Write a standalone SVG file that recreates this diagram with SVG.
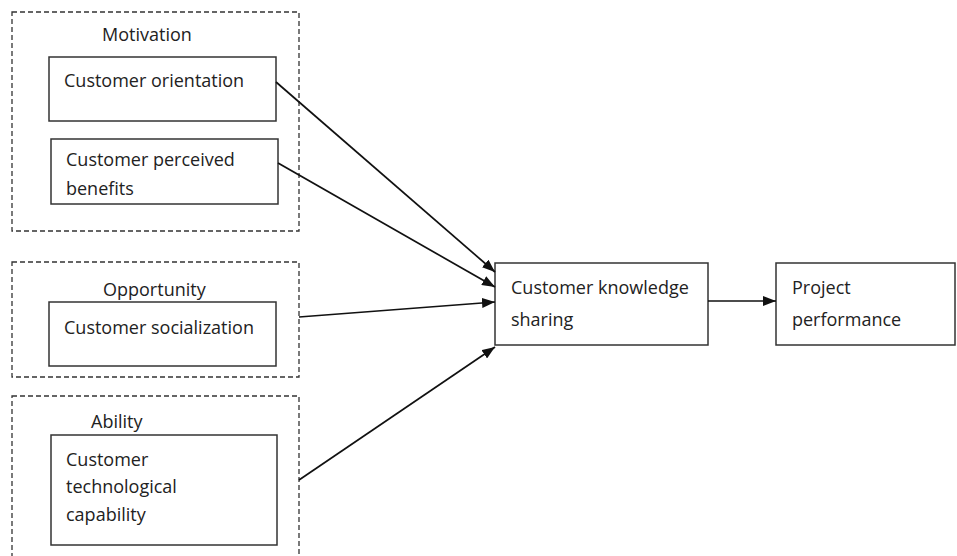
<svg xmlns="http://www.w3.org/2000/svg" width="957" height="556" viewBox="0 0 957 556">
<style>
.grp{fill:none;stroke:#333;stroke-width:1.3;stroke-dasharray:5,3}
.box{fill:#fff;stroke:#333;stroke-width:1.5}
text{font-family:"Open Sans","Liberation Sans",sans-serif;font-size:18px;fill:#222}
.c line{stroke:#111;stroke-width:1.7}
</style>
<defs>
<marker id="a" viewBox="0 0 13 10" refX="13" refY="5" markerWidth="13" markerHeight="10" markerUnits="userSpaceOnUse" orient="auto">
<path d="M0,0 L13,5 L0,10 z" fill="#111"/>
</marker>
</defs>
<g id="motivation">
<rect class="grp" x="12" y="12" width="287" height="219"/>
<text x="102" y="41">Motivation</text>
</g>
<g id="customer-orientation">
<rect class="box" x="49" y="57" width="227" height="64"/>
<text x="64" y="87">Customer orientation</text>
</g>
<g id="customer-perceived-benefits">
<rect class="box" x="51" y="139" width="227" height="65"/>
<text x="66" y="166">Customer perceived</text>
<text x="66" y="195">benefits</text>
</g>
<g id="opportunity">
<rect class="grp" x="12" y="262" width="287" height="115"/>
<text x="103" y="296">Opportunity</text>
</g>
<g id="customer-socialization">
<rect class="box" x="49" y="302" width="227" height="64"/>
<text x="64" y="334">Customer socialization</text>
</g>
<g id="ability">
<rect class="grp" x="12" y="396" width="287" height="170"/>
<text x="91" y="428">Ability</text>
</g>
<g id="customer-technological-capability">
<rect class="box" x="51" y="435" width="226" height="110"/>
<text x="66" y="466">Customer</text>
<text x="66" y="493">technological</text>
<text x="66" y="521">capability</text>
</g>
<g id="customer-knowledge-sharing">
<rect class="box" x="495" y="263" width="213" height="82"/>
<text x="511" y="294">Customer knowledge</text>
<text x="511" y="326">sharing</text>
</g>
<g id="project-performance">
<rect class="box" x="776" y="263" width="179" height="82"/>
<text x="792" y="294">Project</text>
<text x="792" y="326">performance</text>
</g>
<g class="c" id="connectors">
<line x1="276" y1="82" x2="495" y2="272" marker-end="url(#a)"/>
<line x1="278" y1="163" x2="495" y2="287" marker-end="url(#a)"/>
<line x1="299" y1="317" x2="495" y2="302" marker-end="url(#a)"/>
<line x1="299" y1="480" x2="495" y2="347" marker-end="url(#a)"/>
<line x1="708" y1="301" x2="776" y2="301" marker-end="url(#a)"/>
</g>
</svg>
